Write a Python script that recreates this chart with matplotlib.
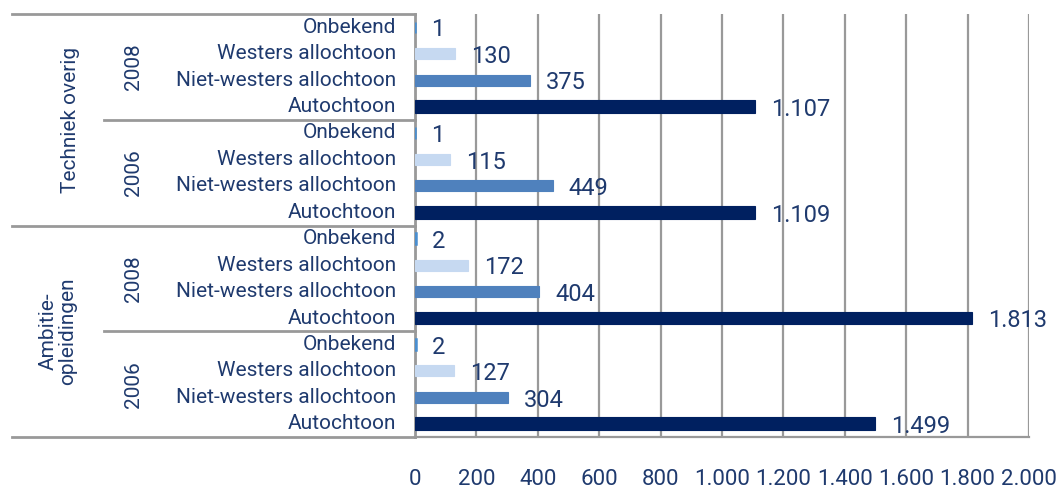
import matplotlib
matplotlib.use("Agg")
import matplotlib.pyplot as plt
import matplotlib.transforms as mtransforms

plt.rcParams['font.family'] = ['Liberation Sans Narrow', 'Roboto', 'DejaVu Sans']

# data, top to bottom
groups = ["Techniek overig", "Ambitie-\nopleidingen"]
years = ["2008", "2006"]
origins = ["Onbekend", "Westers allochtoon", "Niet-westers allochtoon", "Autochtoon"]
values = [
    1, 130, 375, 1107,   # Techniek overig 2008
    1, 115, 449, 1109,   # Techniek overig 2006
    2, 172, 404, 1813,   # Ambitie-opleidingen 2008
    2, 127, 304, 1499,   # Ambitie-opleidingen 2006
]
ticks = [0, 200, 400, 600, 800, 1000, 1200, 1400, 1600, 1800, 2000]

colors = {"Onbekend": "#4a8fd0", "Westers allochtoon": "#c6d9f1",
          "Niet-westers allochtoon": "#4f81bd", "Autochtoon": "#002060"}
txt = "#1f3a6e"
grey = "#999999"

fig = plt.figure(figsize=(10.61, 4.92), dpi=100)
ax = fig.add_axes([415/1061, 1 - 437/492, 614/1061, 423/492])

labels = origins * (len(groups) * len(years))
ys = list(range(len(values)))
for y, v, lab in zip(ys, values, labels):
    h = 0.48 if lab == "Autochtoon" else 0.42
    lw = 1.8 if lab == "Onbekend" else 0.8
    ax.barh(y, v, height=h, color=colors[lab], edgecolor=colors[lab],
            linewidth=lw, zorder=3)
    s = f"{v:,}".replace(",", ".")
    ax.annotate(s, (v, y), xytext=(11.5, -2), textcoords="offset points",
                ha="left", va="center", fontsize=17, color=txt, zorder=4)

ax.set_xlim(0, 2000)
ax.set_ylim(len(values) - 0.5, -0.5)
ax.set_xticks(ticks)
ax.set_xticklabels([f"{t:,}".replace(",", ".") for t in ticks], fontsize=16, color=txt)
ax.tick_params(axis="x", length=0, pad=23)
ax.set_yticks([])
ax.grid(axis="x", color=grey, linewidth=1.6, zorder=0)
for s in ["top", "right"]:
    ax.spines[s].set_visible(False)
ax.spines["left"].set_color(grey)
ax.spines["left"].set_linewidth(2)
ax.spines["bottom"].set_color(grey)
ax.spines["bottom"].set_linewidth(1.6)

# hierarchical category labels
tr = mtransforms.blended_transform_factory(ax.transAxes, ax.transData)
def fx(px):
    return (px - 415) / 614

for y, lab in zip(ys, labels):
    ax.text(fx(396), y, lab, transform=tr, ha="right", va="center",
            fontsize=15, color=txt)

n = len(origins)
group_x = [70, 58]
for gi, g in enumerate(groups):
    g0 = gi * len(years) * n
    gmid = g0 + (len(years) * n - 1) / 2
    ax.text(fx(group_x[gi]), gmid, g, transform=tr, ha="center", va="center",
            rotation=90, fontsize=15, color=txt, linespacing=1.0,
            multialignment="center")
    for yi, yr in enumerate(years):
        y0 = g0 + yi * n
        ax.text(fx(133), y0 + (n - 1) / 2, yr, transform=tr, ha="center",
                va="center", rotation=90, fontsize=15, color=txt)
        if yi > 0:
            ax.plot([fx(104), 0], [y0 - 0.5, y0 - 0.5], transform=tr,
                    color=grey, linewidth=2, clip_on=False)
    ax.plot([fx(12), 0], [g0 - 0.5, g0 - 0.5], transform=tr,
            color=grey, linewidth=2, clip_on=False)
ax.plot([fx(12), 0], [len(values) - 0.5] * 2, transform=tr,
        color=grey, linewidth=2, clip_on=False)

fig.savefig("out.png", dpi=100)
